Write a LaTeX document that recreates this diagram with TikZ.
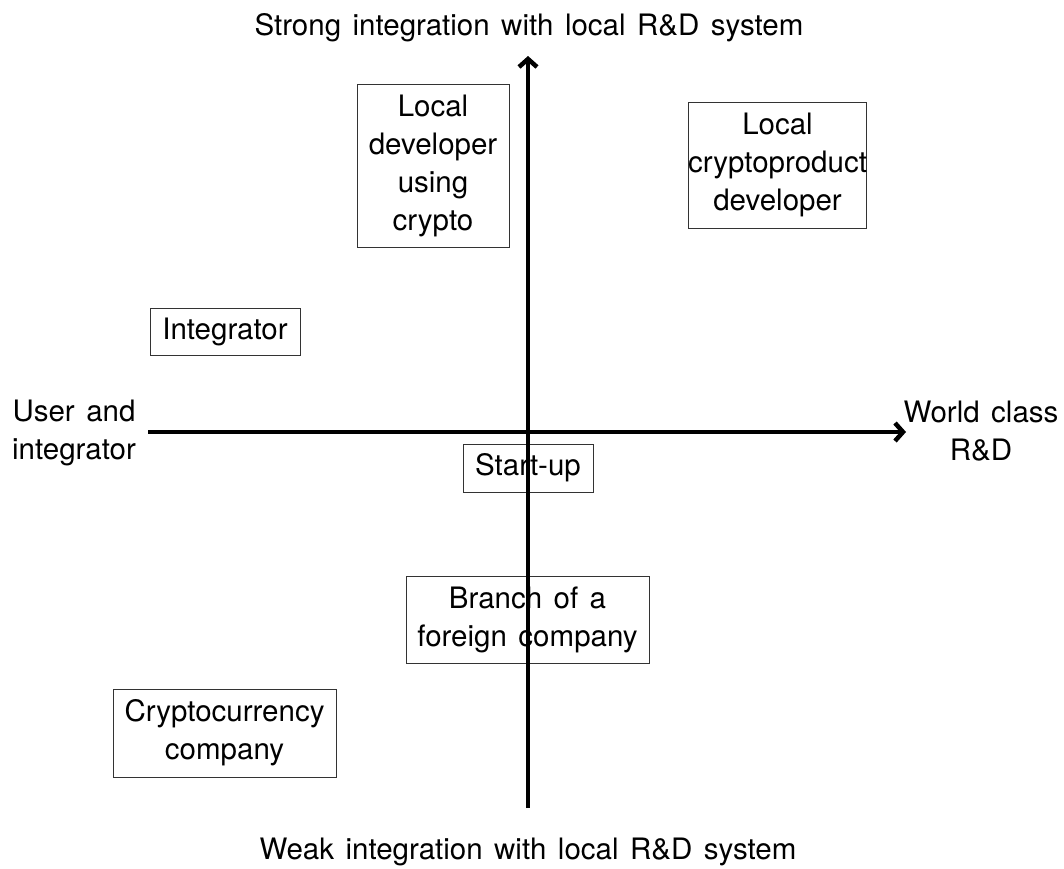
\documentclass[tikz,border=0pt]{standalone}
\usepackage{fontspec}
\setmainfont{TeX Gyre Heros}[WordSpace=1.4]
\usetikzlibrary{arrows.meta}

\begin{document}
\begin{tikzpicture}[x=1pt,y=-1pt,
  every node/.style={font=\fontsize{29.5}{38}\selectfont},
  quad/.style={draw=black!80,line width=1pt,align=center,inner sep=0pt},
  axislabel/.style={align=center,inner sep=0pt},
  axis/.style={line width=4.5pt,-{Straight Barb[length=8pt,width=18pt]}}]
\useasboundingbox (0,0) rectangle (1064,868);
\node[quad,minimum width=152pt,minimum height=163pt] (dev) at (433,165.5) {Local\\developer\\using\\crypto};
\node[quad,minimum width=175pt,minimum height=126pt] (prod) at (777.5,165) {Local\\cryptoproduct\\developer};
\node[quad,minimum width=150pt,minimum height=47pt] (integ) at (225,331.5) {Integrator};
\node[quad,minimum width=130pt,minimum height=48pt] (start) at (528,468) {Start-up};
\node[quad,minimum width=243pt,minimum height=87pt] (branch) at (527.5,619.5) {Branch of a\\foreign company};
\node[quad,minimum width=223pt,minimum height=88pt] (crypto) at (224.5,733) {Cryptocurrency\\company};
\node[axislabel,anchor=base] (strong) at (529,35) {Strong integration with local R\&D system};
\node[axislabel,anchor=base] (weak) at (528,859) {Weak integration with local R\&D system};
\node[axislabel] (user) at (74,433) {User and\\integrator};
\node[axislabel] (world) at (981,431) {World class\\R\&D};
\coordinate (west) at (148,432);
\coordinate (east) at (906,432);
\coordinate (south) at (528,808);
\coordinate (north) at (528,56);
\draw[axis] (west) -- (east);
\draw[axis] (south) -- (north);
\end{tikzpicture}
\end{document}
